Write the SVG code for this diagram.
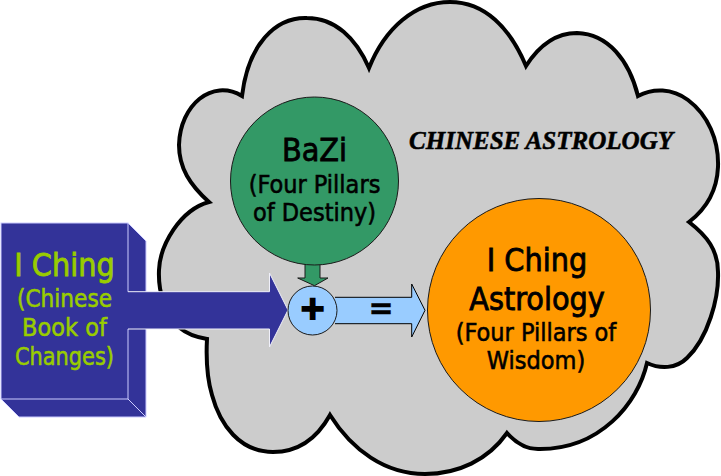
<svg xmlns="http://www.w3.org/2000/svg" width="721" height="476" viewBox="0 0 721 476">
<style>
text{font-family:"DejaVu Sans Condensed","DejaVu Sans",sans-serif;text-anchor:middle;fill:#000;stroke:#000;stroke-width:.55}
.lg{font-size:32px;stroke-width:.8}
.sm{font-size:25px}
text.gr{fill:#99cc00;stroke:#99cc00}
.book{fill:#333399;stroke:#ccccff;stroke-width:1;stroke-linejoin:miter}
.thin{stroke:#1a1a1a;stroke-width:1}
</style>
<rect width="721" height="476" fill="#fff"/>
<g id="cloud">
<path fill="#cccccc" stroke="#000" stroke-width="4" stroke-linejoin="miter" d="M242 96C248 45 275 17 307 18C335 18 356 38 369 68C385 28 415 2 450 2C485 2 510 28 526 66C540 44 556 33 577 33C608 34 629 60 638 96C653 88 672 88 688 100C708 115 719 140 718 167C717 190 706 209 689 222C707 236 718 250 718 272C719 298 708 338 687 358C676 369 660 369 647 363C638 403 600 450 538 449C527 449 516 443 507 433C488 460 458 474 425 474C385 474 352 450 330 415C315 442 294 452 273 452C240 452 220 425 212 395C207 378 206 358 207 339C195 337 187 334 180 328C165 315 158 292 159 270C160 245 180 210 209 202C190 185 179 168 179 145C180 105 212 78 242 96Z"/>
<text x="541" y="149" style="font-family:'Liberation Serif',serif;font-size:26px;font-weight:700;font-style:italic" textLength="264" lengthAdjust="spacingAndGlyphs">CHINESE ASTROLOGY</text>
</g>
<g id="book">
<path class="book" d="M128 223L146 241V417H19L1 399Z"/>
<path class="book" d="M128 399L146 417"/>
<rect class="book" x="1" y="223" width="127" height="176"/>
<text class="lg gr" x="64.5" y="276">I Ching</text>
<text class="sm gr" x="64.5" y="307" textLength="95" lengthAdjust="spacingAndGlyphs">(Chinese</text>
<text class="sm gr" x="64.5" y="336">Book of</text>
<text class="sm gr" x="64.5" y="365" textLength="99" lengthAdjust="spacingAndGlyphs">Changes)</text>
</g>
<g id="connectors">
<path fill="#333399" stroke="none" d="M126 291.7H269.5V273L288 310L269.5 347V329H126Z"/>
<path fill="none" stroke="#f0f0fa" stroke-width="1" d="M128 291.7H269.5V273L288 310L269.5 347V329H128"/>
<path fill="#339966" stroke="#1a1a1a" stroke-width="1" d="M305 263V278H297.7L314.5 285.7L328 278H320V263"/>
<path fill="#99ccff" stroke="#000" stroke-width="1" d="M335 297.3H411.7V284L425 310.3L411.7 337V323.7H335"/>
</g>
<g id="bazi">
<circle class="thin" cx="314.5" cy="181" r="84" fill="#339966"/>
<text class="lg" x="314.5" y="161">BaZi</text>
<text class="sm" x="314.5" y="193">(Four Pillars</text>
<text class="sm" x="314.5" y="221">of Destiny)</text>
</g>
<g id="plus">
<circle class="thin" cx="312.5" cy="310.5" r="24.5" fill="#99ccff"/>
<text x="312.7" y="319" style="font-family:'DejaVu Sans',sans-serif;font-size:32px;font-weight:700;stroke-width:2">+</text>
</g>
<text x="381" y="318" style="font-family:'DejaVu Sans',sans-serif;font-size:30px;font-weight:700;stroke-width:.5">=</text>
<g id="result">
<circle class="thin" cx="539" cy="310" r="111.5" fill="#ff9900"/>
<text class="lg" x="537" y="271">I Ching</text>
<text class="lg" x="537" y="310">Astrology</text>
<text class="sm" x="536" y="341">(Four Pillars of</text>
<text class="sm" x="536" y="369">Wisdom)</text>
</g>
</svg>
